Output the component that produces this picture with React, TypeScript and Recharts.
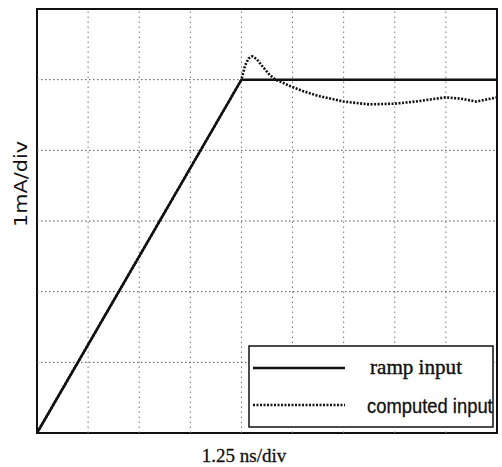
import { LineChart, Line, XAxis, YAxis, ReferenceArea, ReferenceLine, Legend, Label } from "recharts";

const xTicks = [0, 1, 2, 3, 4, 5, 6, 7, 8, 9];
const yTicks = [0, 1, 2, 3, 4, 5, 6];

// ramp input (divisions)
const rampX = [0, 4, 9];
const rampY = [0, 5, 5];

// computed input
const compX = [0, 4, 4.07, 4.14, 4.21, 4.3, 4.42, 4.55, 4.67, 4.8, 4.95, 5.2, 5.5, 6.0, 6.5, 7.0, 7.4, 7.8, 8.0, 8.3, 8.6, 9.0];
const compY = [0, 5, 5.2, 5.3, 5.33, 5.29, 5.18, 5.07, 5.0, 4.96, 4.91, 4.84, 4.77, 4.69, 4.65, 4.66, 4.69, 4.73, 4.75, 4.73, 4.69, 4.75];

const ramp = rampX.map((x, i) => ({ x, y: rampY[i] }));
const computed = compX.map((x, i) => ({ x, y: compY[i] }));

function LegendBox() {
  return (
    <svg width={246} height={83} style={{ display: "block", background: "#fff" }}>
      <rect x={1} y={1} width={244} height={81} fill="#fff" stroke="#111" strokeWidth={1.5} />
      <line x1={5} x2={97} y1={23} y2={23} stroke="#111" strokeWidth={2.5} />
      <text x={122} y={29} textLength={92} lengthAdjust="spacingAndGlyphs" fontFamily="Liberation Serif" fontSize={21} fill="#111" stroke="#111" strokeWidth={0.4}>
        ramp input
      </text>
      <line x1={5} x2={97} y1={60} y2={60} stroke="#111" strokeWidth={2.4} strokeDasharray="2 1.5" />
      <text transform="translate(119,68) scale(0.92,1)" fontFamily="Liberation Sans" fontSize={20} fill="#111" stroke="#111" strokeWidth={0.3}>
        computed input
      </text>
    </svg>
  );
}

export default function App() {
  return (
    <div style={{ position: "absolute", left: 0, top: 0, width: 502, height: 467, background: "#fff" }}>
      <LineChart width={502} height={467} margin={{ top: 9, right: 5, left: 0, bottom: 0 }}>
        <XAxis type="number" dataKey="x" domain={[0, 9]} ticks={xTicks} tick={false} axisLine={false} tickLine={false} height={34}>
          <Label
            content={({ viewBox }: any) => (
              <text x={viewBox.x + viewBox.width / 2 - 23} y={viewBox.y + 29} textAnchor="middle" fontFamily="Liberation Serif" fontSize={19} fill="#111" stroke="#111" strokeWidth={0.3}>
                1.25 ns/div
              </text>
            )}
          />
        </XAxis>
        <YAxis type="number" dataKey="y" domain={[0, 6]} ticks={yTicks} tick={false} axisLine={false} tickLine={false} width={37}>
          <Label
            content={() => (
              <text x={27} y={184} transform="rotate(-90, 27, 184)" textAnchor="middle" textLength={86} lengthAdjust="spacingAndGlyphs" fontFamily="DejaVu Sans" fontSize={17} fill="#111">
                1mA/div
              </text>
            )}
          />
        </YAxis>
        {xTicks.slice(1, -1).map((t) => (
          <ReferenceLine key={"vx" + t} x={t} stroke="#777" strokeDasharray="1.5 3.5" />
        ))}
        {yTicks.slice(1, -1).map((t) => (
          <ReferenceLine key={"hy" + t} y={t} stroke="#555" strokeDasharray="1.5 2.5" />
        ))}
        <ReferenceArea x1={0} x2={9} y1={0} y2={6} fill="none" stroke="#111" strokeWidth={2} ifOverflow="visible" />
        <Line data={computed} dataKey="y" type="linear" stroke="#111" strokeWidth={2.6} strokeDasharray="2 1.5" dot={false} isAnimationActive={false} />
        <Line data={ramp} dataKey="y" type="linear" stroke="#111" strokeWidth={2.5} dot={false} isAnimationActive={false} />
        <Legend
          layout="vertical"
          align="center"
          verticalAlign="middle"
          content={() => <LegendBox />}
          wrapperStyle={{ left: 248, top: 345, width: 246, height: 83 }}
        />
      </LineChart>
    </div>
  );
}
